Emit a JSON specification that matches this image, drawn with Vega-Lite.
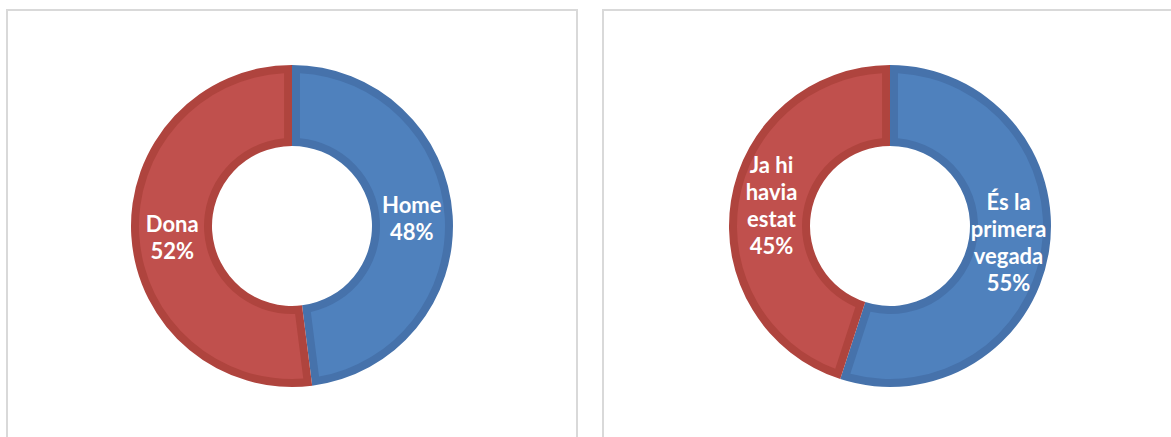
{
  "$schema": "https://vega.github.io/schema/vega-lite/v6.json",
  "padding": {"left": 6, "top": 9, "right": 0, "bottom": 0},
  "spacing": 24,
  "config": {
    "view": {"stroke": "#d9d9d9", "strokeWidth": 2},
    "font": "Lato"
  },
  "datasets": {
    "gender": [
      {"rank": 1, "cat": "Home", "value": 48, "label": "Home\n48%"},
      {"rank": 2, "cat": "Dona", "value": 52, "label": "Dona\n52%"}
    ],
    "visit": [
      {"rank": 1, "cat": "És la primera vegada", "value": 55, "label": "És la\nprimera\nvegada\n55%"},
      {"rank": 2, "cat": "Ja hi havia estat", "value": 45, "label": "Ja hi\nhavia\nestat\n45%"}
    ]
  },
  "hconcat": [
    {
      "width": 570,
      "height": 432,
      "view": {"stroke": "#d9d9d9", "strokeWidth": 2},
      "data": {"name": "gender"},
      "encoding": {
        "theta": {"field": "value", "type": "quantitative", "stack": true},
        "order": {"field": "rank", "type": "quantitative"}
      },
      "layer": [
        {
          "mark": {"type": "arc", "outerRadius": 161, "innerRadius": 80},
          "encoding": {
            "color": {"field": "cat", "type": "nominal", "scale": {"domain": ["Home", "Dona"], "range": ["#4672AB", "#AF443E"]}, "legend": null}
          }
        },
        {
          "mark": {"type": "arc", "outerRadius": 153, "innerRadius": 88, "padAngle": 0.09},
          "encoding": {
            "fill": {"field": "cat", "type": "nominal", "scale": {"domain": ["Home", "Dona"], "range": ["#4F81BD", "#C0504D"]}, "legend": null}
          }
        },
        {
          "mark": {"type": "text", "radius": 120, "fontSize": 22, "fontWeight": "bold", "fill": "white", "lineBreak": "\n", "lineHeight": 27, "dy": -12},
          "encoding": {
            "text": {"condition": {"test": "datum.cat == 'Home'", "field": "label"}, "value": ""}
          }
        },
        {
          "mark": {"type": "text", "radius": 120, "fontSize": 22, "fontWeight": "bold", "fill": "white", "lineBreak": "\n", "lineHeight": 27, "dy": -8.5},
          "encoding": {
            "text": {"condition": {"test": "datum.cat == 'Dona'", "field": "label"}, "value": ""}
          }
        }
      ]
    },
    {
      "width": 574,
      "height": 432,
      "view": {"stroke": "#d9d9d9", "strokeWidth": 2},
      "data": {"name": "visit"},
      "encoding": {
        "theta": {"field": "value", "type": "quantitative", "stack": true},
        "order": {"field": "rank", "type": "quantitative"}
      },
      "layer": [
        {
          "mark": {"type": "arc", "outerRadius": 161, "innerRadius": 80},
          "encoding": {
            "color": {"field": "cat", "type": "nominal", "scale": {"domain": ["És la primera vegada", "Ja hi havia estat"], "range": ["#4672AB", "#AF443E"]}, "legend": null}
          }
        },
        {
          "mark": {"type": "arc", "outerRadius": 153, "innerRadius": 88, "padAngle": 0.09},
          "encoding": {
            "fill": {"field": "cat", "type": "nominal", "scale": {"domain": ["És la primera vegada", "Ja hi havia estat"], "range": ["#4F81BD", "#C0504D"]}, "legend": null}
          }
        },
        {
          "mark": {"type": "text", "radius": 120, "fontSize": 22, "fontWeight": "bold", "fill": "white", "lineBreak": "\n", "lineHeight": 27, "dy": -41.5},
          "encoding": {"text": {"field": "label"}}
        }
      ]
    }
  ],
  "resolve": {"scale": {"color": "independent", "fill": "independent", "theta": "independent"}}
}
